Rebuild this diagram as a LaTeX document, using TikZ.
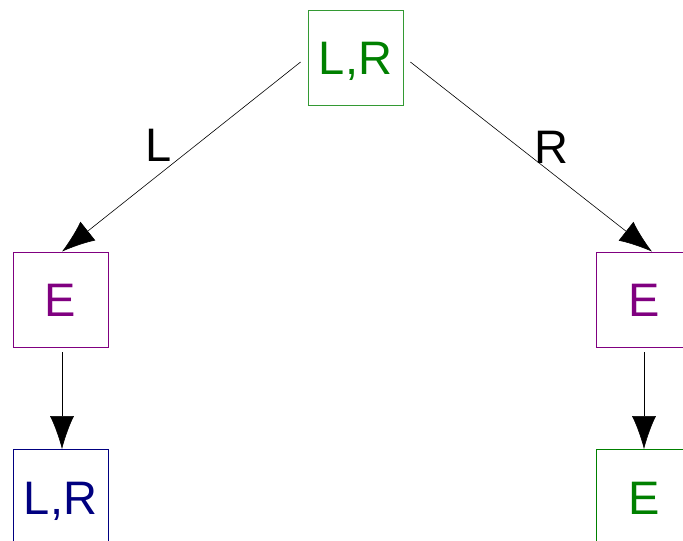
\documentclass[tikz,border=0pt]{standalone}
\usepackage{fontspec}
\setmainfont{Liberation Sans}
\usetikzlibrary{arrows.meta}

\definecolor{stgreen}{RGB}{0,128,0}
\definecolor{stpurple}{RGB}{128,0,128}
\definecolor{stnavy}{RGB}{0,0,128}

\begin{document}
\begin{tikzpicture}[
        x                 = 1pt,
        y                 = -1pt,
        state/.style      = {draw, minimum size=95pt, inner sep=0pt, line width=0.8pt,
                             font=\fontsize{47}{47}\selectfont, text height=34pt, text depth=0pt},
        move/.style       = {draw, line width=0.6pt, -{Latex[length=33pt,width=24pt]}},
        movelabel/.style  = {font=\fontsize{47}{47}\selectfont, inner sep=0pt},
      ]
        \clip (0,0) rectangle (683,541);

        % states
        \node[state, draw=stgreen!80, text=stgreen]   (root) at (355.5,57.5) {L,R};
        \node[state, draw=stpurple, text=stpurple]    (eL)   at (60.5,299.5) {E};
        \node[state, draw=stpurple, text=stpurple]    (eR)   at (644,299.5)  {E};
        \node[state, draw=stnavy, text=stnavy]        (lrL)  at (60.5,497)   {L,R};
        \node[state, draw=stgreen, text=stgreen]      (eRR)  at (644,497)    {E};

        % moves
        \draw[move] ([shift={(-7,4.5)}]root.west) -- ([xshift=1.5pt]eL.north)
            node[movelabel, pos=0.44, left=24pt] {L};
        \draw[move] ([shift={(7,4.5)}]root.east) -- ([xshift=8pt]eR.north)
            node[movelabel, pos=0.45, right=15pt] {R};
        \draw[move, shorten <=5pt] ([xshift=1.5pt]eL.south) -- ([xshift=1.5pt]lrL.north);
        \draw[move, shorten <=5pt] (eR.south) -- (eRR.north);
\end{tikzpicture}
\end{document}
